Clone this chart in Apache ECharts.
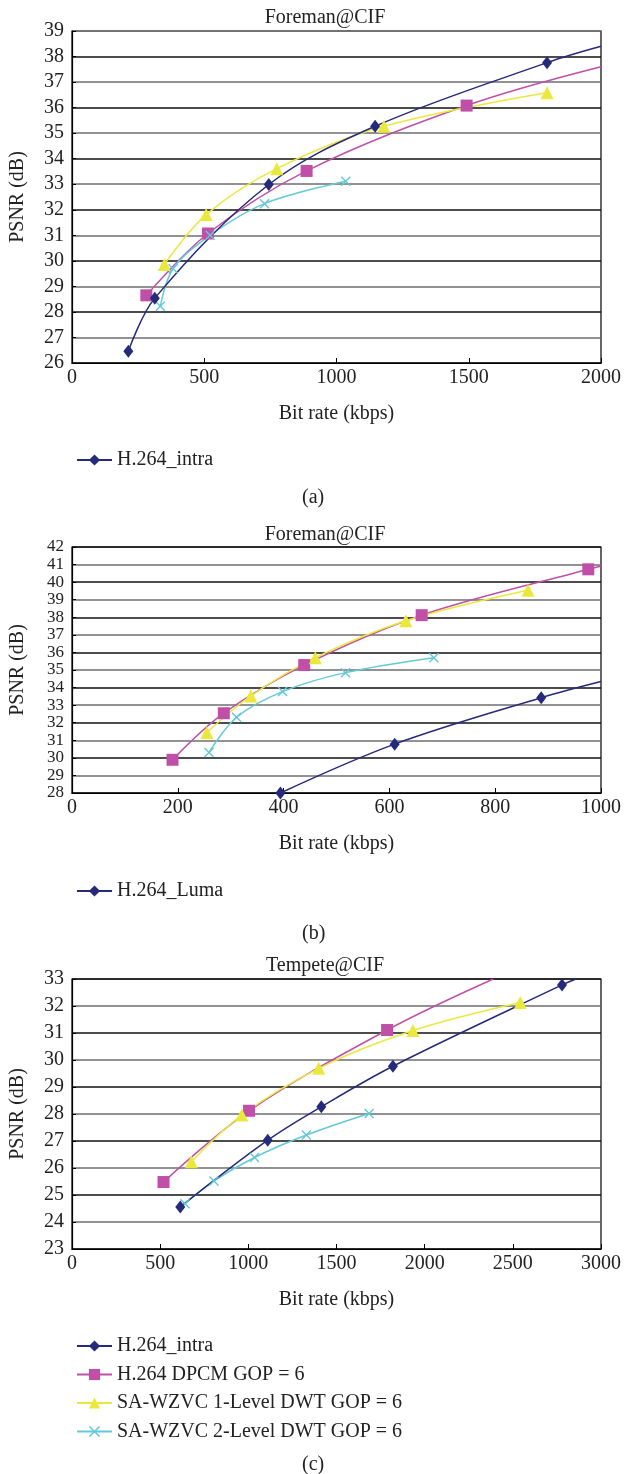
<!DOCTYPE html>
<html>
<head>
<meta charset="utf-8">
<script src="https://cdn.jsdelivr.net/npm/echarts@6/dist/echarts.min.js"></script>
<style>
  html, body { margin: 0; padding: 0; background: #fff; }
  #main { width: 624px; height: 1474px; }
</style>
</head>
<body>
<div id="main"></div>
<script>
// names
const NAME_INTRA = 'H.264_intra';
const NAME_LUMA = 'H.264_Luma';
const NAME_DPCM = 'H.264 DPCM GOP = 6';
const NAME_WZ1 = 'SA-WZVC 1-Level DWT GOP = 6';
const NAME_WZ2 = 'SA-WZVC 2-Level DWT GOP = 6';

// (a) Foreman@CIF — [bit rate kbps, PSNR dB]
const intraA = [[213, 26.46], [313, 28.54], [744, 32.99], [1146, 35.27], [1796, 37.76]];
const intraAEnd = [2000, 38.4];
const dpcmA = [[281, 28.65], [514, 31.07], [887, 33.52], [1492, 36.08]];
const dpcmAEnd = [2000, 37.6];
const wz1A = [[349, 29.86], [507, 31.81], [774, 33.61], [1179, 35.27], [1796, 36.58]];
const wz2A = [[334, 28.22], [382, 29.69], [522, 31.0], [728, 32.24], [1035, 33.12]];

// (b) Foreman@CIF luma
const lumaB = [[394, 28.0], [610, 30.78], [887, 33.42]];
const lumaBEnd = [1000, 34.34];
const dpcmB = [[190, 29.89], [287, 32.54], [439, 35.28], [661, 38.12], [976, 40.73]];
const dpcmBEnd = [1000, 40.9];
const wz1B = [[255, 31.44], [338, 33.52], [460, 35.7], [631, 37.8], [862, 39.54]];
const wz2B = [[259, 30.31], [311, 32.31], [398, 33.77], [517, 34.85], [684, 35.7]];

// (c) Tempete@CIF
const intraC = [[614, 24.56], [1110, 27.03], [1414, 28.27], [1820, 29.77], [2779, 32.78]];
const intraCEnd = [2858, 33];
const dpcmC = [[519, 25.48], [1004, 28.12], [1787, 31.11]];
const dpcmCEnd = [2389, 33];
const wz1C = [[677, 26.23], [963, 27.96], [1399, 29.69], [1933, 31.09], [2542, 32.13]];
const wz2C = [[641, 24.68], [805, 25.52], [1035, 26.39], [1329, 27.22], [1685, 28.02]];

const COL_INTRA = '#252a7a';
const COL_DPCM = '#c04fa8';
const COL_WZ1 = '#ebe83c';
const COL_WZ2 = '#62c9d6';
const FONT = 'Liberation Serif';
const FS = 20;
const X_MARK = 'path://M0,1L1,0L5,4L9,0L10,1L6,5L10,9L9,10L5,6L1,10L0,9L4,5Z';

function withEnd(pts, end) {
  const data = pts.slice();
  if (end) data.push({ value: end, symbol: 'none' });
  return data;
}

function line(name, idx, pts, end, color, symbol, size) {
  return {
    name: name,
    type: 'line',
    xAxisIndex: idx,
    yAxisIndex: idx,
    data: withEnd(pts, end),
    smooth: 0.35,
    symbol: symbol,
    symbolSize: size,
    showAllSymbol: true,
    lineStyle: { color: color, width: 1.5 },
    itemStyle: { color: color },
    emphasis: { disabled: true },
    z: 3
  };
}

function xAxis(idx, max, interval) {
  return {
    gridIndex: idx, type: 'value', min: 0, max: max, interval: interval,
    name: 'Bit rate (kbps)', nameLocation: 'middle', nameGap: 41,
    nameTextStyle: { fontFamily: FONT, fontSize: FS, color: '#222' },
    axisLine: { lineStyle: { color: '#000', width: 1.2 } },
    axisTick: { inside: true, length: 5, lineStyle: { color: '#000' } },
    axisLabel: {
      fontFamily: FONT, fontSize: FS, color: '#222', margin: 5,
      showMinLabel: true, showMaxLabel: true, hideOverlap: false,
      formatter: (v) => String(v)
    },
    splitLine: { show: false }
  };
}

function yAxis(idx, min, max, fs) {
  return {
    gridIndex: idx, type: 'value', min: min, max: max, interval: 1,
    name: 'PSNR (dB)', nameLocation: 'middle', nameGap: 44,
    nameTextStyle: { fontFamily: FONT, fontSize: FS, color: '#222' },
    axisLine: { lineStyle: { color: '#000', width: 1.2 } },
    axisTick: { inside: true, length: 4, lineStyle: { color: '#000' } },
    axisLabel: {
      fontFamily: FONT, fontSize: fs, color: '#222', margin: 8,
      showMinLabel: true, showMaxLabel: true, hideOverlap: false,
      formatter: (v) => String(v)
    },
    splitLine: { show: true, lineStyle: { color: ['#111', '#6e6e6e'], width: 1.5 } }
  };
}

function title(text, top) {
  return {
    text: text, left: 320, top: top, textAlign: 'center',
    textStyle: { fontFamily: FONT, fontSize: FS, fontWeight: 'normal', color: '#222' }
  };
}

function legend(names, top) {
  return {
    data: names, orient: 'vertical', left: 71, top: top,
    itemWidth: 35, itemHeight: 14, itemGap: 8.5,
    textStyle: { fontFamily: FONT, fontSize: FS, color: '#222' }
  };
}

function caption(text, y) {
  return {
    type: 'text', left: 302, top: y,
    style: { text: text, font: FS + 'px "Liberation Serif"', fill: '#222' }
  };
}

const grid = { show: true, borderColor: '#000', borderWidth: 1.2, backgroundColor: '#fff' };

const chart = echarts.init(document.getElementById('main'), null, { renderer: 'canvas' });
chart.setOption({
  animation: false,
  backgroundColor: '#fff',
  title: [title('Foreman@CIF', 3), title('Foreman@CIF', 520), title('Tempete@CIF', 951)],
  legend: [
    legend([NAME_INTRA], 445),
    legend([NAME_LUMA], 876),
    legend([NAME_INTRA, NAME_DPCM, NAME_WZ1, NAME_WZ2], 1331)
  ],
  grid: [
    Object.assign({ left: 71, right: 21, top: 31, bottom: 1474 - 363 }, grid),
    Object.assign({ left: 72, right: 20, top: 547, bottom: 1474 - 793 }, grid),
    Object.assign({ left: 71, right: 21, top: 979, bottom: 1474 - 1249 }, grid)
  ],
  xAxis: [xAxis(0, 2000, 500), xAxis(1, 1000, 200), xAxis(2, 3000, 500)],
  yAxis: [yAxis(0, 26, 39, FS), yAxis(1, 28, 42, 17), yAxis(2, 23, 33, FS)],
  graphic: [caption('(a)', 488), caption('(b)', 924), caption('(c)', 1455)],
  series: [
    line(NAME_DPCM, 0, dpcmA, dpcmAEnd, COL_DPCM, 'rect', 12),
    line(NAME_WZ1, 0, wz1A, null, COL_WZ1, 'triangle', 13),
    line(NAME_WZ2, 0, wz2A, null, COL_WZ2, X_MARK, 10),
    line(NAME_INTRA, 0, intraA, intraAEnd, COL_INTRA, 'diamond', [10, 13]),

    line(NAME_DPCM, 1, dpcmB, dpcmBEnd, COL_DPCM, 'rect', 12),
    line(NAME_WZ1, 1, wz1B, null, COL_WZ1, 'triangle', 13),
    line(NAME_WZ2, 1, wz2B, null, COL_WZ2, X_MARK, 10),
    line(NAME_LUMA, 1, lumaB, lumaBEnd, COL_INTRA, 'diamond', [10, 13]),

    line(NAME_DPCM, 2, dpcmC, dpcmCEnd, COL_DPCM, 'rect', 12),
    line(NAME_WZ1, 2, wz1C, null, COL_WZ1, 'triangle', 13),
    line(NAME_WZ2, 2, wz2C, null, COL_WZ2, X_MARK, 10),
    line(NAME_INTRA, 2, intraC, intraCEnd, COL_INTRA, 'diamond', [10, 13])
  ]
});
</script>
</body>
</html>
